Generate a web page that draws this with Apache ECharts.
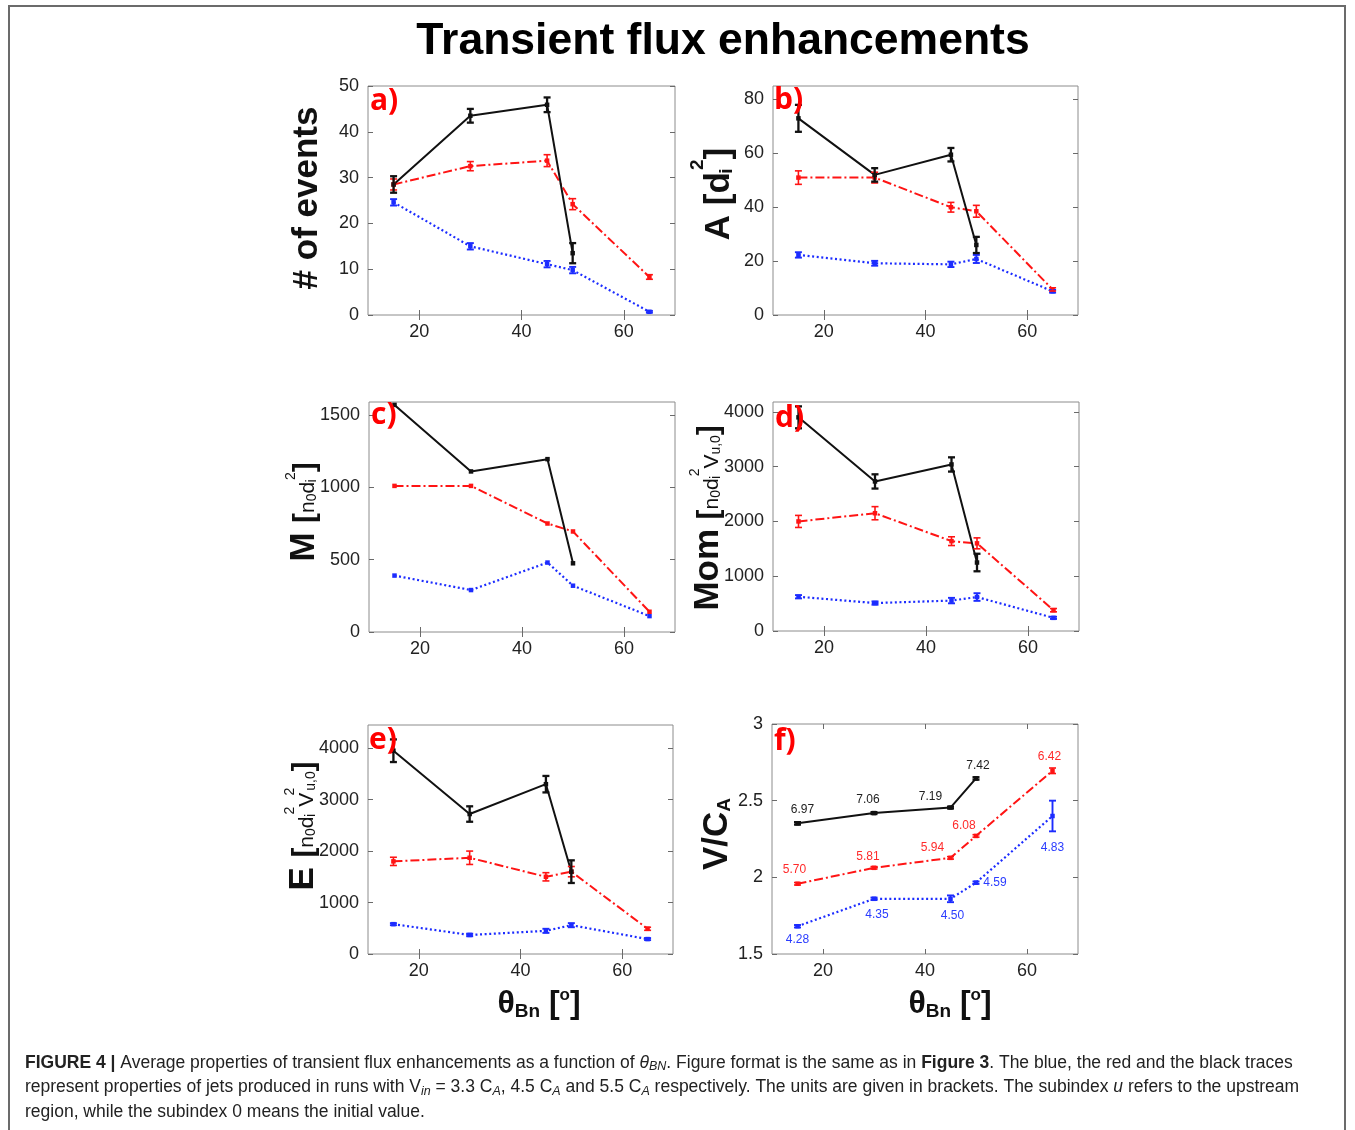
<!DOCTYPE html>
<html>
<head>
<meta charset="utf-8">
<title>Transient flux enhancements</title>
<script src="https://cdn.jsdelivr.net/npm/echarts@6/dist/echarts.min.js"></script>
<style>
  html, body { margin: 0; padding: 0; background: #fff; }
  #chart { width: 1355px; height: 1130px; }
</style>
</head>
<body>
<div id="chart"></div>
<script>
// Shock-normal angles of the runs (degrees); the 5.5 C_A runs stop at 50°.
const theta = [15, 30, 45, 50, 65];
const thetaFast = [15, 30, 45, 50];
const thetaTicks = [20, 40, 60];

// a) number of events
const eventsV33 = [24.6, 15.0, 11.1, 9.8, 0.7];
const eventsV33Err = [0.7, 0.7, 0.7, 0.7, 0.2];
const eventsV45 = [28.5, 32.5, 33.7, 24.2, 8.3];
const eventsV45Err = [1.2, 1.0, 1.3, 1.2, 0.5];
const eventsV55 = [28.5, 43.5, 45.9, 13.5];
const eventsV55Err = [1.8, 1.5, 1.6, 2.2];
const eventsTicks = [0, 10, 20, 30, 40, 50];

// b) area A [d_i^2]
const areaV33 = [22.3, 19.2, 18.8, 20.8, 8.8];
const areaV33Err = [1.0, 0.9, 1.0, 1.5, 0.5];
const areaV45 = [51, 51, 40, 38.5, 9.5];
const areaV45Err = [2.5, 2.0, 1.8, 2.2, 0.6];
const areaV55 = [73, 52, 59.5, 26];
const areaV55Err = [5.0, 2.5, 2.5, 3.0];
const areaTicks = [0, 20, 40, 60, 80];

// c) mass M [n0 d_i^2]
const massV33 = [390, 290, 480, 320, 110];
const massV45 = [1010, 1010, 750, 695, 140];
const massV55 = [1570, 1110, 1195, 475];
const massTicks = [0, 500, 1000, 1500];

// d) momentum Mom [n0 d_i^2 V_u,0]
const momV33 = [625, 510, 555, 620, 240];
const momV33Err = [30, 30, 50, 70, 20];
const momV45 = [2000, 2150, 1640, 1600, 380];
const momV45Err = [110, 120, 80, 100, 30];
const momV55 = [3900, 2730, 3040, 1250];
const momV55Err = [200, 130, 130, 160];
const momTicks = [0, 1000, 2000, 3000, 4000];

// e) energy E [n0 d_i^2 V_u,0^2]
const energyV33 = [580, 370, 450, 560, 290];
const energyV33Err = [20, 25, 40, 40, 20];
const energyV45 = [1800, 1870, 1500, 1600, 490];
const energyV45Err = [80, 130, 80, 100, 30];
const energyV55 = [3950, 2720, 3300, 1600];
const energyV55Err = [220, 150, 160, 220];
const energyTicks = [0, 1000, 2000, 3000, 4000];

// f) speed V/C_A, with the speed annotation printed next to each point
const speedV33 = [1.681, 1.860, 1.860, 1.965, 2.40];
const speedV33Err = [0.008, 0.008, 0.022, 0.008, 0.10];
const speedV45 = [1.958, 2.062, 2.127, 2.270, 2.695];
const speedV45Err = [0.008, 0.008, 0.008, 0.008, 0.018];
const speedV55 = [2.352, 2.419, 2.455, 2.645];
const speedV55Err = [0.008, 0.006, 0.006, 0.008];
const speedV33Text = ['4.28', '4.35', '4.50', '4.59', '4.83'];
const speedV45Text = ['5.70', '5.81', '5.94', '6.08', '6.42'];
const speedV55Text = ['6.97', '7.06', '7.19', '7.42'];
const speedTicks = [1.5, 2, 2.5, 3];

// annotation placement (pixel offsets from each point)
const speedV33TextOffset = [[0, 13], [3, 16], [2, 17], [19, 0], [0, 32]];
const speedV45TextOffset = [[-3, -14], [-6, -11], [-18, -10], [-12, -10], [-3, -14]];
const speedV55TextOffset = [[5, -14], [-6, -13], [-20, -11], [2, -13]];

const FONT = 'Liberation Sans';
const colors = { v33: '#1c2cff', v45: '#ff1414', v55: '#111111' };
const lineLook = {
  v33: { width: 2.2, type: [2, 2.6] },
  v45: { width: 2, type: [9, 3, 2, 3] },
  v55: { width: 2, type: 'solid' }
};
const errWidth = { v33: 1.9, v45: 1.6, v55: 2.3 };
const labelColors = { v33: '#2a3cff', v45: '#ff2a2a', v55: '#222' };

const panels = [
  { letter: 'a)', box: [368, 86, 307, 229], y: [0, 50], ticks: eventsTicks,
    v33: [eventsV33, eventsV33Err], v45: [eventsV45, eventsV45Err], v55: [eventsV55, eventsV55Err] },
  { letter: 'b)', box: [773, 86, 305, 229], y: [0, 85], ticks: areaTicks,
    v33: [areaV33, areaV33Err], v45: [areaV45, areaV45Err], v55: [areaV55, areaV55Err] },
  { letter: 'c)', box: [369, 402, 306, 230], y: [0, 1590], ticks: massTicks,
    v33: [massV33, null], v45: [massV45, null], v55: [massV55, null] },
  { letter: 'd)', box: [773, 402, 306, 229], y: [0, 4180], ticks: momTicks,
    v33: [momV33, momV33Err], v45: [momV45, momV45Err], v55: [momV55, momV55Err] },
  { letter: 'e)', box: [368, 725, 305, 229], y: [0, 4450], ticks: energyTicks,
    v33: [energyV33, energyV33Err], v45: [energyV45, energyV45Err], v55: [energyV55, energyV55Err] },
  { letter: 'f)', box: [772, 724, 306, 230], y: [1.5, 3], ticks: speedTicks,
    v33: [speedV33, speedV33Err, speedV33Text, speedV33TextOffset],
    v45: [speedV45, speedV45Err, speedV45Text, speedV45TextOffset],
    v55: [speedV55, speedV55Err, speedV55Text, speedV55TextOffset] }
];

const tickStyle = { show: true, inside: true, length: 5, lineStyle: { color: '#6a6a6a', width: 1 } };
const labelStyle = { color: '#222', fontSize: 18, fontFamily: FONT, formatter: v => String(v) };

function makeXAxes(gi) {
  const base = { type: 'value', gridIndex: gi, min: 10, max: 70, splitLine: { show: false }, axisLine: { show: false } };
  return [
    Object.assign({}, base, { position: 'bottom',
      axisTick: Object.assign({ customValues: thetaTicks }, tickStyle),
      axisLabel: Object.assign({ customValues: thetaTicks, margin: 8 }, labelStyle) }),
    Object.assign({}, base, { position: 'top',
      axisTick: Object.assign({ customValues: thetaTicks }, tickStyle),
      axisLabel: { show: false } })
  ];
}

function makeYAxes(gi, p) {
  const base = { type: 'value', gridIndex: gi, min: p.y[0], max: p.y[1], splitLine: { show: false }, axisLine: { show: false } };
  return [
    Object.assign({}, base, { position: 'left',
      axisTick: Object.assign({ customValues: p.ticks }, tickStyle),
      axisLabel: Object.assign({ customValues: p.ticks, margin: 9 }, labelStyle) }),
    Object.assign({}, base, { position: 'right',
      axisTick: Object.assign({ customValues: p.ticks }, tickStyle),
      axisLabel: { show: false } })
  ];
}

function lineSeries(gi, key, xs, ys, texts, offsets) {
  return {
    type: 'line', xAxisIndex: 2 * gi, yAxisIndex: 2 * gi, z: 3, silent: true,
    symbol: 'rect', symbolSize: 4.5, showSymbol: true,
    itemStyle: { color: colors[key] },
    lineStyle: { color: colors[key], width: lineLook[key].width, type: lineLook[key].type, cap: 'butt' },
    label: { show: false, position: 'inside', color: labelColors[key], fontSize: 12, fontFamily: FONT },
    data: xs.map((x, i) => {
      const d = { value: [x, ys[i]] };
      if (texts) d.label = { show: true, formatter: texts[i], offset: offsets[i] };
      return d;
    })
  };
}

function errorSeries(gi, key, xs, ys, errs) {
  const color = colors[key], w = errWidth[key];
  return {
    type: 'custom', xAxisIndex: 2 * gi, yAxisIndex: 2 * gi, z: 4, silent: true,
    data: xs.map((x, i) => [x, ys[i] - errs[i], ys[i] + errs[i]]),
    encode: { x: 0, y: [1, 2] },
    renderItem: (params, api) => {
      const lo = api.coord([api.value(0), api.value(1)]);
      const hi = api.coord([api.value(0), api.value(2)]);
      const c = 3.5;
      const st = () => ({ stroke: color, lineWidth: w });
      return { type: 'group', children: [
        { type: 'line', shape: { x1: lo[0], y1: lo[1], x2: hi[0], y2: hi[1] }, style: st() },
        { type: 'line', shape: { x1: lo[0] - c, y1: lo[1], x2: lo[0] + c, y2: lo[1] }, style: st() },
        { type: 'line', shape: { x1: hi[0] - c, y1: hi[1], x2: hi[0] + c, y2: hi[1] }, style: st() }
      ] };
    }
  };
}

const grids = [], xAxes = [], yAxes = [], series = [];
panels.forEach((p, gi) => {
  grids.push({ left: p.box[0], top: p.box[1], width: p.box[2], height: p.box[3],
    show: true, borderColor: '#8c8c8c', borderWidth: 1, backgroundColor: '#fff',
    containLabel: false, outerBoundsMode: 'none' });
  xAxes.push(...makeXAxes(gi));
  yAxes.push(...makeYAxes(gi, p));
  ['v33', 'v45', 'v55'].forEach(key => {
    const xs = key === 'v55' ? thetaFast : theta;
    const [ys, errs, texts, offsets] = p[key];
    series.push(lineSeries(gi, key, xs, ys, texts, offsets));
    if (errs) series.push(errorSeries(gi, key, xs, ys, errs));
  });
});

// rich text pieces for the axis titles (padding top pushes a piece toward the
// baseline side, padding bottom lifts it)
function rt(size, weight, pad, extra) {
  return Object.assign({ fontSize: size, fontWeight: weight, fontFamily: FONT, color: '#111', padding: pad }, extra || {});
}
const titleRich = {
  big: rt(35, 'bold', [0, 0, 0, 0]),
  bigSb: rt(19, 'bold', [16, 0, 0, 0]),
  bigSbS: rt(19, 'bold', [16, 0, 0, 0], { width: 2 }),
  bigSp: rt(19, 'bold', [0, 0, 42, 0]),
  br: rt(29, 'bold', [4, 0, 0, 0]),
  md: rt(21, 'normal', [9, 0, 0, 0]),
  sb: rt(14, 'normal', [17, 0, 0, 0]),
  sbS: rt(14, 'normal', [17, 0, 0, 0], { width: 2 }),
  sp: rt(14, 'normal', [0, 0, 26, 0]),
  spS: rt(14, 'normal', [0, 0, 26, 0], { width: 2 }),
  th: rt(32, 'bold', [0, 0, 0, 0]),
  thSb: rt(19, 'bold', [15, 0, 0, 0]),
  thSp: rt(17, 'bold', [0, 0, 18, 0])
};

function yTitle(x, y, text) {
  return { type: 'text', x: x, y: y, rotation: Math.PI / 2, z: 50,
    style: { text: text, rich: titleRich, align: 'center', verticalAlign: 'middle',
      fontSize: 35, fontWeight: 'bold', fontFamily: FONT, fill: '#111' } };
}
function xTitle(x, y) {
  return { type: 'text', x: x, y: y, z: 50,
    style: { text: '{th|θ}{thSb|Bn}{th| [}{thSp|o}{th|]}', rich: titleRich,
      align: 'center', verticalAlign: 'middle', fontSize: 32, fontFamily: FONT, fill: '#111' } };
}

const letterPos = [[370, 86], [774, 85], [371, 400], [775, 403], [369, 725], [774, 726]];

const capBase = { fontSize: 17.5, fontFamily: FONT, fontWeight: 'normal', fontStyle: 'normal', color: '#222' };
const capRich = {
  b: Object.assign({}, capBase, { fontWeight: 'bold' }),
  i: Object.assign({}, capBase, { fontStyle: 'italic' }),
  is: Object.assign({}, capBase, { fontStyle: 'italic', fontSize: 12.5, padding: [8, 0, 0, 0] })
};
const captionLines = [
  '{b|FIGURE 4 |} Average properties of transient flux enhancements as a function of {i|θ}{is|BN}. Figure format is the same as in {b|Figure 3}. The blue, the red and the black traces',
  'represent properties of jets produced in runs with V{is|in} = 3.3 C{is|A}, 4.5 C{is|A} and 5.5 C{is|A} respectively. The units are given in brackets. The subindex {i|u} refers to the upstream',
  'region, while the subindex 0 means the initial value.'
];

const graphic = [
  { type: 'rect', z: 0, shape: { x: 9, y: 6, width: 1336, height: 1200 },
    style: { fill: 'none', stroke: '#6b6b6b', lineWidth: 2 } },
  { type: 'text', x: 723, y: 42, z: 50,
    style: { text: 'Transient flux enhancements', align: 'center', verticalAlign: 'middle',
      fontSize: 44.5, fontWeight: 'bold', fontFamily: FONT, fill: '#000' } },
  yTitle(307, 198, '{big|# of events}'),
  yTitle(719, 194, '{big|A [d}{bigSbS|i}{bigSp|2}{big|]}'),
  yTitle(304, 512, '{big|M }{br|[}{md|n}{sb|0}{md|d}{sbS|i}{sp|2}{br|]}'),
  yTitle(708, 518, '{big|Mom }{br|[}{md|n}{sb|0}{md|d}{sbS|i}{sp|2}{md|V}{sb|u,0}{br|]}'),
  yTitle(303, 826, '{big|E }{br|[}{md|n}{sb|0}{md|d}{sbS|i}{sp|2}{md|V}{spS|2}{sb|u,0}{br|]}'),
  yTitle(717, 834, '{big|V/C}{bigSb|A}'),
  xTitle(539, 1004),
  xTitle(950, 1004)
];
panels.forEach((p, gi) => {
  graphic.push({ type: 'text', x: letterPos[gi][0], y: letterPos[gi][1], z: 60,
    style: { text: p.letter, align: 'left', verticalAlign: 'top',
      fontSize: 30, fontWeight: 'bold', fontFamily: 'Open Sans', fill: '#ff0000' } });
});
captionLines.forEach((t, k) => {
  graphic.push({ type: 'text', x: 25, y: 1063 + 24.5 * k, z: 50,
    style: { text: t, rich: capRich, align: 'left', verticalAlign: 'middle',
      fontSize: 17.5, fontFamily: FONT, fill: '#222' } });
});

const chart = echarts.init(document.getElementById('chart'), null, { renderer: 'canvas' });
chart.setOption({
  animation: false,
  backgroundColor: '#fff',
  grid: grids,
  xAxis: xAxes,
  yAxis: yAxes,
  series: series,
  graphic: graphic
});
</script>
</body>
</html>
